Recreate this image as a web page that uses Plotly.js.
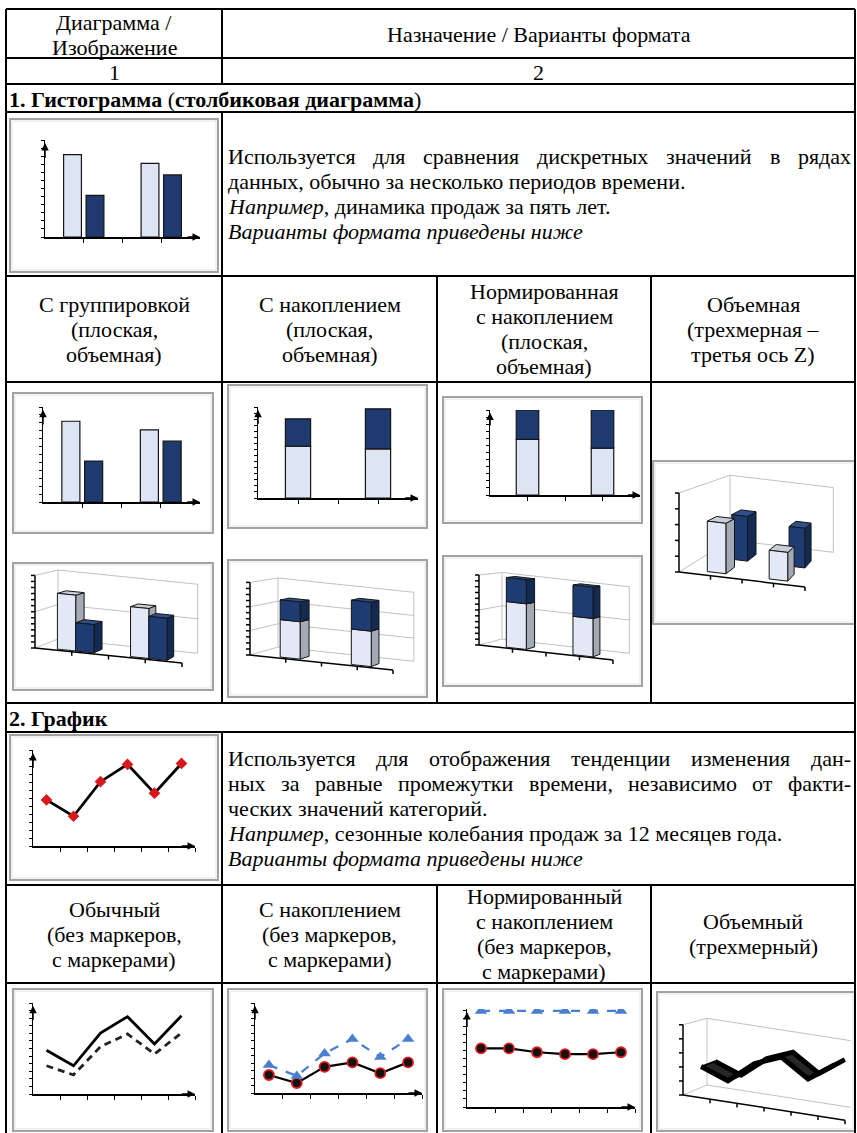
<!DOCTYPE html>
<html><head><meta charset="utf-8">
<script src="https://cdn.plot.ly/plotly-3.0.1.min.js"></script>
<style>html,body{margin:0;padding:0;background:#fff;overflow:hidden}#chart{width:857px;height:1133px}</style>
</head><body><div id="chart"></div>
<script>
// ================= DATA =================
const barCats = [1, 3];
const groupedLight = [0.85, 0.76];
const groupedDark = [0.43, 0.64];
const stackedLight = [0.57, 0.54];
const stackedDark = [0.30, 0.44];
const depthFrontRow = [0.65, 0.37];
const depthBackRow = [0.62, 0.55];
const lineCats = [0.5, 1.5, 2.5, 3.5, 4.5, 5.5];
const lineMain = [0.48, 0.31, 0.67, 0.85, 0.55, 0.86];
const lineSecond = [0.31, 0.21, 0.52, 0.66, 0.44, 0.67];
const stackA = [0.20, 0.11, 0.29, 0.34, 0.22, 0.34];
const stackB = [0.11, 0.08, 0.15, 0.26, 0.18, 0.26];
const normA = [0.61, 0.61, 0.57, 0.55, 0.55, 0.57];
const normB = [0.39, 0.39, 0.43, 0.45, 0.45, 0.43];

const headerCol1 = ['Диаграмма /', 'Изображение'];
const headerCol2 = 'Назначение / Варианты формата';
const colNumbers = ['1', '2'];
const section1Title = '<b>1. Гистограмма</b> (<b>столбиковая диаграмма</b>)';
const section2Title = '<b>2. График</b>';
const desc1Justified = ['Используется для сравнения дискретных значений в рядах'];
const desc1Lines = ['данных, обычно за несколько периодов времени.',
  '<i>Например</i>, динамика продаж за пять лет.',
  '<i>Варианты формата приведены ниже</i>'];
const desc2Justified = ['Используется для отображения тенденции изменения дан-',
  'ных за равные промежутки времени, независимо от факти-'];
const desc2Lines = ['ческих значений категорий.',
  '<i>Например</i>, сезонные колебания продаж за 12 месяцев года.',
  '<i>Варианты формата приведены ниже</i>'];
const barVariants = [['С группировкой', '(плоская,', 'объемная)'],
  ['С накоплением', '(плоская,', 'объемная)'],
  ['Нормированная', 'с накоплением', '(плоская,', 'объемная)'],
  ['Объемная', '(трехмерная –', 'третья ось Z)']];
const lineVariants = [['Обычный', '(без маркеров,', 'с маркерами)'],
  ['С накоплением', '(без маркеров,', 'с маркерами)'],
  ['Нормированный', 'с накоплением', '(без маркеров,', 'с маркерами)'],
  ['Объемный', '(трехмерный)']];

// ================= STYLE / GEOMETRY =================
const W = 857, H = 1133;
const FONT = 'Liberation Serif, Times New Roman, serif';
const FS = 22, LH = 25;
const COLX = [6, 222, 437, 651, 855];
const ROWY = {top: 9, head: 58, nums: 84, sec1: 112, desc1: 276, var1: 382, charts1: 703, sec2: 732, desc2: 885, var2: 983};
const LIGHT = '#dde4f4', DARK = '#1f3a6e', EDGE = '#151515';

const traces = [], shapes = [], annotations = [];
const layout = {
  width: W, height: H, margin: {l: 0, r: 0, t: 0, b: 0},
  paper_bgcolor: '#ffffff', plot_bgcolor: 'rgba(0,0,0,0)',
  showlegend: false, barmode: 'overlay', hovermode: false,
  font: {family: FONT, size: FS, color: '#000'},
  xaxis: {domain: [0, 1], range: [0, W], visible: false, fixedrange: true},
  yaxis: {domain: [0, 1], range: [H, 0], visible: false, fixedrange: true},
  shapes, annotations
};

function txt(t, x, y, anchor, size) {
  annotations.push({xref: 'x', yref: 'y', x: x, y: y, text: t, showarrow: false,
    xanchor: anchor || 'center', yanchor: 'middle', borderpad: 0, borderwidth: 0,
    font: {family: FONT, size: size || FS, color: '#000'}});
}
const cv = document.createElement('canvas').getContext('2d');
function measure(t) { cv.font = FS + 'px "Liberation Serif"'; return cv.measureText(t).width; }
function justified(line, x0, x1, y) {
  const words = line.split(' ');
  const ws = words.map(measure);
  const total = ws.reduce((a, b) => a + b, 0);
  const gap = (x1 - x0 - total) / (words.length - 1);
  let x = x0;
  words.forEach((w, i) => { txt(w, x, y, 'left'); x += ws[i] + gap; });
}
function hline(y, x0, x1) { shapes.push({type: 'line', xref: 'x', yref: 'y', x0: x0, x1: x1, y0: y, y1: y, line: {color: '#000', width: 2}, layer: 'above'}); }
function vline(x, y0, y1) { shapes.push({type: 'line', xref: 'x', yref: 'y', x0: x, x1: x, y0: y0, y1: y1, line: {color: '#000', width: 2}, layer: 'above'}); }
function frame(b) {
  shapes.push({type: 'rect', xref: 'x', yref: 'y', x0: b[0], x1: b[1], y0: b[2], y1: b[3], fillcolor: '#fff', line: {color: '#a2a2a2', width: 2}, layer: 'below'});
  shapes.push({type: 'rect', xref: 'x', yref: 'y', x0: b[0] + 2, x1: b[1] - 2, y0: b[2] + 2, y1: b[3] - 2, line: {color: '#e2e2e2', width: 1}, layer: 'below'});
}

// ================= TABLE =================
[ROWY.top, ROWY.head, ROWY.nums, ROWY.sec1, ROWY.desc1, ROWY.var1, ROWY.charts1, ROWY.sec2, ROWY.desc2, ROWY.var2].forEach(y => hline(y, COLX[0], COLX[4]));
vline(COLX[0], ROWY.top, H); vline(COLX[4], ROWY.top, H);
vline(COLX[1], ROWY.top, ROWY.nums); vline(COLX[1], ROWY.sec1, ROWY.charts1); vline(COLX[1], ROWY.sec2, H);
[COLX[2], COLX[3]].forEach(x => { vline(x, ROWY.desc1, ROWY.charts1); vline(x, ROWY.desc2, H); });

const c1 = (COLX[0] + COLX[1]) / 2, c2 = (COLX[1] + COLX[4]) / 2;
const hm = (ROWY.top + ROWY.head) / 2;
txt(headerCol1[0], c1, hm - LH / 2 + 1); txt(headerCol1[1], c1, hm + LH / 2 + 1);
txt(headerCol2, c2, hm + 1);
txt(colNumbers[0], c1, (ROWY.head + ROWY.nums) / 2 + 1); txt(colNumbers[1], c2, (ROWY.head + ROWY.nums) / 2 + 1);
txt(section1Title, 9, (ROWY.nums + ROWY.sec1) / 2 + 1, 'left');
txt(section2Title, 9, (ROWY.charts1 + ROWY.sec2) / 2 + 1, 'left');

function paragraph(just, rest, y0, y1) {
  const n = just.length + rest.length;
  let y = (y0 + y1) / 2 - (n - 1) * LH / 2;
  just.forEach(l => { justified(l, 228, 851, y); y += LH; });
  rest.forEach(l => { txt(l, 228, y, 'left'); y += LH; });
}
paragraph(desc1Justified, desc1Lines, ROWY.sec1, ROWY.desc1);
paragraph(desc2Justified, desc2Lines, ROWY.sec2, ROWY.desc2);

function centeredLines(lines, cx, y0, y1) {
  let y = (y0 + y1) / 2 - (lines.length - 1) * LH / 2;
  lines.forEach(l => { txt(l, cx, y); y += LH; });
}
barVariants.forEach((ls, i) => centeredLines(ls, (COLX[i] + COLX[i + 1]) / 2, ROWY.desc1, ROWY.var1));
lineVariants.forEach((ls, i) => centeredLines(ls, (COLX[i] + COLX[i + 1]) / 2, ROWY.desc2, ROWY.var2));

// ================= FLAT CHARTS =================
let nAx = 1;
function subplot(p, xr, yr, xticks, ydt, grids) {
  nAx++;
  const xn = 'x' + nAx, yn = 'y' + nAx;
  layout['xaxis' + nAx] = {domain: [p[0] / W, p[1] / W], range: xr, anchor: yn, showgrid: false, zeroline: false,
    showline: true, linecolor: '#000', linewidth: 1.5, ticks: 'outside', ticklen: 4, tickwidth: 1, tickcolor: '#000',
    tickmode: 'array', tickvals: xticks, showticklabels: false, fixedrange: true};
  layout['yaxis' + nAx] = {domain: [1 - p[3] / H, 1 - p[2] / H], range: yr, anchor: xn, showgrid: false, zeroline: false,
    showline: true, linecolor: '#000', linewidth: 1.5, ticks: 'outside', ticklen: 3, tickwidth: 1, tickcolor: '#000',
    tickmode: 'linear', tick0: 0, dtick: ydt, showticklabels: false, fixedrange: true};
  grids.forEach(g => shapes.push({type: 'line', xref: xn + ' domain', yref: yn, x0: 0, x1: 1, y0: g, y1: g, line: {color: '#a6a6a6', width: 1}, layer: 'below'}));
  annotations.push({xref: xn, yref: yn, axref: xn, ayref: yn, x: xr[1], y: 0, ax: xr[1] - (xr[1] - xr[0]) * 0.09, ay: 0, text: '', showarrow: true, arrowhead: 2, arrowsize: 1, arrowwidth: 1.5, arrowcolor: '#000'});
  annotations.push({xref: xn, yref: yn, axref: xn, ayref: yn, x: 0, y: yr[1] * 0.97, ax: 0, ay: yr[1] * 0.8, text: '', showarrow: true, arrowhead: 2, arrowsize: 1, arrowwidth: 1.5, arrowcolor: '#000'});
  return {xaxis: xn, yaxis: yn};
}
function barTrace(ax, y, base, width, offset, color) {
  const t = Object.assign({type: 'bar', x: barCats, y: y, width: width, offset: offset, hoverinfo: 'skip',
    marker: {color: color, line: {color: EDGE, width: 1.2}}}, ax);
  if (base) t.base = base;
  traces.push(t);
}
function groupedChart(f, p) {
  frame(f);
  const ax = subplot(p, [0, 4], [0, 1], [1, 2, 3], 1 / 12, [0.5, 1]);
  barTrace(ax, groupedLight, null, 0.46, -0.52, LIGHT);
  barTrace(ax, groupedDark, null, 0.46, 0.06, DARK);
}
groupedChart([10, 218, 119, 272], [45, 200, 140, 237]);
groupedChart([13, 213, 393, 533], [43, 200, 407, 502]);

frame([228, 427, 385, 528]);
(function () {
  const ax = subplot([258, 418, 407, 498], [0, 4], [0, 1], [1, 2, 3], 1 / 15, [1 / 3, 2 / 3, 1]);
  barTrace(ax, stackedLight, null, 0.63, -0.315, LIGHT);
  barTrace(ax, stackedDark, stackedLight, 0.63, -0.315, DARK);
})();
frame([443, 642, 397, 523]);
(function () {
  const ax = subplot([490, 640, 410, 495], [0, 4], [0, 1], [1, 2, 3], 1 / 12, [0.5, 1]);
  const tot = stackedLight.map((v, i) => v + stackedDark[i]);
  const fl = stackedLight.map((v, i) => v / tot[i]);
  const fd = stackedDark.map((v, i) => v / tot[i]);
  barTrace(ax, fl, null, 0.6, -0.3, LIGHT);
  barTrace(ax, fd, fl, 0.6, -0.3, DARK);
})();

// line charts
const XT6 = [1, 2, 3, 4, 5, 6];
frame([10, 218, 735, 880]);
(function () {
  const ax = subplot([33, 195, 750, 846], [0, 6], [0, 1], XT6, 1 / 12, [0.5, 1]);
  traces.push(Object.assign({type: 'scatter', mode: 'lines+markers', x: lineCats, y: lineMain, hoverinfo: 'skip',
    line: {color: '#000', width: 2.8}, marker: {symbol: 'diamond', size: 9, color: '#d7191c'}}, ax));
})();
frame([13, 213, 989, 1131]);
(function () {
  const ax = subplot([33, 195, 1003, 1094], [0, 6], [0, 1], XT6, 1 / 12, [0.5, 1]);
  traces.push(Object.assign({type: 'scatter', mode: 'lines', x: lineCats, y: lineSecond, hoverinfo: 'skip',
    line: {color: '#222', width: 2.8, dash: '7px,5px'}}, ax));
  traces.push(Object.assign({type: 'scatter', mode: 'lines', x: lineCats, y: lineMain, hoverinfo: 'skip',
    line: {color: '#000', width: 2.8}}, ax));
})();
const MK_CIRCLE = {symbol: 'circle', size: 10, color: '#111', line: {color: '#e31a1c', width: 1.8}};
const MK_TRI = {symbol: 'triangle-up', size: 11, color: '#4a7fd0'};
frame([228, 427, 989, 1131]);
(function () {
  const ax = subplot([255, 422, 1003, 1093], [0, 6], [0, 1], XT6, 1 / 12, [0.5, 1]);
  traces.push(Object.assign({type: 'scatter', mode: 'lines+markers', x: lineCats, y: stackA, stackgroup: 'sa', fill: 'none', hoverinfo: 'skip',
    line: {color: '#000', width: 2.2}, marker: MK_CIRCLE}, ax));
  traces.push(Object.assign({type: 'scatter', mode: 'lines+markers', x: lineCats, y: stackB, stackgroup: 'sa', fill: 'none', hoverinfo: 'skip',
    line: {color: '#4a7fd0', width: 2.2, dash: 'dash'}, marker: MK_TRI}, ax));
})();
frame([443, 642, 989, 1131]);
(function () {
  const ax = subplot([467, 635, 1009, 1107], [0, 6], [0, 1.02], XT6, 1 / 12, [0.5, 1]);
  traces.push(Object.assign({type: 'scatter', mode: 'lines+markers', x: lineCats, y: normA, stackgroup: 'sn', groupnorm: 'fraction', fill: 'none', hoverinfo: 'skip',
    line: {color: '#000', width: 2.2}, marker: MK_CIRCLE}, ax));
  traces.push(Object.assign({type: 'scatter', mode: 'lines+markers', x: lineCats, y: normB, stackgroup: 'sn', fill: 'none', hoverinfo: 'skip',
    line: {color: '#4a7fd0', width: 2.2, dash: 'dash'}, marker: MK_TRI}, ax));
})();

// ================= 3D (oblique projection on page axis) =================
function makeProj(o) {
  return (c, z, v) => { const s = 1 - o.k * z; return [o.ox + z * o.dx + c * o.ux * s, o.oy + z * o.dy + c * o.uy * s - v * o.hs * s]; };
}
function poly(pts, fill, lc, lw) {
  traces.push({type: 'scatter', mode: 'lines', fill: 'toself', fillcolor: fill, hoverinfo: 'skip',
    x: pts.map(p => p[0]).concat([pts[0][0]]), y: pts.map(p => p[1]).concat([pts[0][1]]),
    line: {color: lc, width: lw}, xaxis: 'x', yaxis: 'y'});
}
function segs(list, color, width) {
  const xs = [], ys = [];
  list.forEach(s => { xs.push(s[0][0], s[1][0], null); ys.push(s[0][1], s[1][1], null); });
  traces.push({type: 'scatter', mode: 'lines', x: xs, y: ys, hoverinfo: 'skip', line: {color: color, width: width}, xaxis: 'x', yaxis: 'y'});
}
const LIGHT3 = {front: '#e2e8f6', top: '#c9ced8', side: '#a3a9b5'};
const DARK3 = {front: '#1f3c72', top: '#2d4f8c', side: '#132a52'};
function box3d(P, c0, c1, z0, z1, vb, vt, col) {
  poly([P(c1, z0, vb), P(c1, z1, vb), P(c1, z1, vt), P(c1, z0, vt)], col.side, EDGE, 1);
  poly([P(c0, z0, vt), P(c1, z0, vt), P(c1, z1, vt), P(c0, z1, vt)], col.top, EDGE, 1);
  poly([P(c0, z0, vb), P(c1, z0, vb), P(c1, z0, vt), P(c0, z0, vt)], col.front, EDGE, 1);
}
function frame3d(P, nCat, wallCat, vmax, grids, nTicks, catTicks) {
  const L = [[P(0, 1, 0), P(0, 1, vmax)], [P(0, 1, vmax), P(wallCat, 1, vmax)], [P(0, 1, 0), P(wallCat, 1, 0)],
    [P(0, 0, vmax), P(0, 1, vmax)], [P(0, 0, 0), P(0, 1, 0)]];
  if (wallCat >= nCat) L.push([P(wallCat, 1, 0), P(wallCat, 1, vmax)]);
  grids.forEach(g => { L.push([P(0, 0, g), P(0, 1, g)], [P(0, 1, g), P(wallCat, 1, g)]); });
  segs(L, '#c2c2c2', 1);
  const A = [[P(0, 0, 0), P(0, 0, vmax)], [P(0, 0, 0), P(nCat, 0, 0)]];
  for (let i = 0; i <= nTicks; i++) { const p = P(0, 0, vmax * i / nTicks); A.push([[p[0] - 4, p[1]], p]); }
  catTicks.forEach(c => { const p = P(c, 0, 0); A.push([p, [p[0], p[1] + 4]]); });
  segs(A, '#000', 1.5);
}

// column 1: clustered 3D
frame([13, 213, 563, 690]);
(function () {
  const P = makeProj({ox: 35, oy: 648, ux: 36.75, uy: 3.75, dx: 23, dy: -9, hs: 66, k: 0.05});
  frame3d(P, 4, 4, 1.1, [0.55], 12, [1, 2, 3, 4]);
  barCats.forEach((c, i) => {
    box3d(P, c - 0.45, c + 0.05, 0.1, 0.5, 0, groupedLight[i], LIGHT3);
    box3d(P, c + 0.05, c + 0.55, 0.1, 0.5, 0, groupedDark[i], DARK3);
  });
})();
// column 2: stacked 3D
frame([228, 427, 560, 697]);
(function () {
  const P = makeProj({ox: 250, oy: 655, ux: 35.75, uy: 3.75, dx: 28, dy: -8, hs: 66, k: 0.05});
  frame3d(P, 4, 4, 1.1, [0.37, 0.73], 12, [1, 2, 3, 4]);
  barCats.forEach((c, i) => {
    box3d(P, c - 0.23, c + 0.33, 0.1, 0.45, 0, stackedLight[i], LIGHT3);
    box3d(P, c - 0.23, c + 0.33, 0.1, 0.45, stackedLight[i], stackedLight[i] + stackedDark[i], DARK3);
  });
})();
// column 3: 100% stacked 3D
frame([443, 642, 556, 686]);
(function () {
  const P = makeProj({ox: 479, oy: 645, ux: 33.5, uy: 3.75, dx: 23, dy: -6, hs: 70, k: 0.05});
  frame3d(P, 4, 4, 1.0, [0.5], 12, [1, 2, 3, 4]);
  barCats.forEach((c, i) => {
    const tot = stackedLight[i] + stackedDark[i];
    box3d(P, c - 0.25, c + 0.35, 0.1, 0.5, 0, stackedLight[i] / tot, LIGHT3);
    box3d(P, c - 0.25, c + 0.35, 0.1, 0.5, stackedLight[i] / tot, 1, DARK3);
  });
})();
// column 4: true 3D (two rows in depth)
frame([653, 855, 461, 624]);
(function () {
  const P = makeProj({ox: 679, oy: 572, ux: 31.5, uy: 3.75, dx: 51, dy: -32, hs: 79, k: 0.18});
  frame3d(P, 4, 4, 1.0, [], 5, [1, 2, 3, 4]);
  barCats.forEach((c, i) => box3d(P, c - 0.05, c + 0.5, 0.5, 0.7, 0, depthBackRow[i], DARK3));
  barCats.forEach((c, i) => box3d(P, c - 0.25, c + 0.35, 0.1, 0.3, 0, depthFrontRow[i], LIGHT3));
})();
// line row column 4: 3D line (ribbon)
frame([657, 855, 992, 1131]);
(function () {
  const P = makeProj({ox: 683, oy: 1095, ux: 27, uy: 4.2, dx: 24, dy: -10, hs: 60, k: 0.05});
  frame3d(P, 6, 5.6, 1.17, [], 5, [1, 2, 3, 4, 5, 6]);
  for (let i = 0; i < lineCats.length - 1; i++) {
    poly([P(lineCats[i], 0.2, lineMain[i]), P(lineCats[i + 1], 0.2, lineMain[i + 1]),
      P(lineCats[i + 1], 0.8, lineMain[i + 1]), P(lineCats[i], 0.8, lineMain[i])], '#262626', '#000', 2);
  }
  [0.2, 0.8].forEach(z => {
    const pts = lineCats.map((c, i) => P(c, z, lineMain[i]));
    traces.push({type: 'scatter', mode: 'lines', x: pts.map(p => p[0]), y: pts.map(p => p[1]), hoverinfo: 'skip',
      line: {color: '#000', width: 5}, xaxis: 'x', yaxis: 'y'});
  });
})();

Plotly.newPlot('chart', traces, layout, {staticPlot: true, displayModeBar: false});
</script>
</body></html>
